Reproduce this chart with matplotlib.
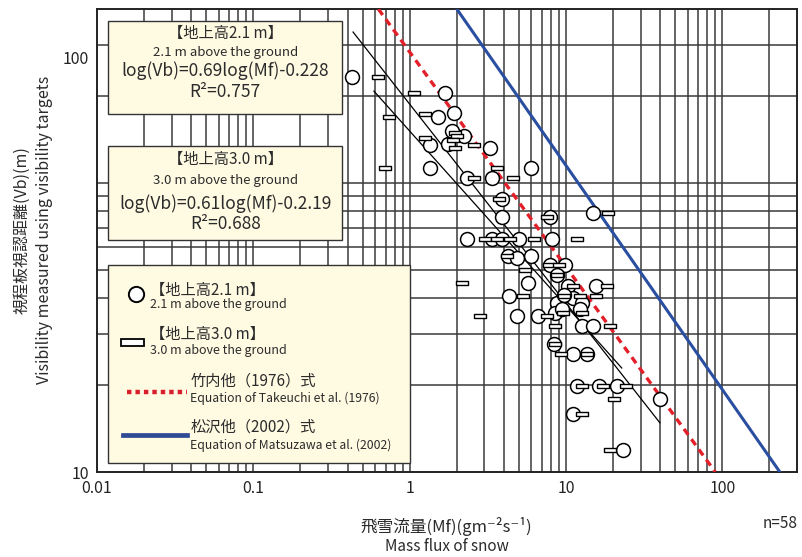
import numpy as np
import matplotlib
matplotlib.use('Agg')
import matplotlib.pyplot as plt
from matplotlib.patches import Rectangle

plt.rcParams['font.family'] = ['Noto Sans CJK JP', 'DejaVu Sans']

# 地上高2.1 m の観測点 (Mf, Vb)
mf_21 = [0.43, 1.68, 1.92, 1.51, 1.86, 2.22, 1.75, 1.35, 3.26, 1.35, 6.0, 2.31, 3.38,
         3.92, 3.92, 7.87, 14.8, 2.31, 3.38, 3.92, 5.03, 8.11, 4.28, 6.0, 4.84, 7.87,
         9.89, 8.73, 5.70, 15.6, 10.3, 4.3, 8.73, 11.0, 12.7, 9.75, 4.84, 6.61, 8.47,
         9.4, 12.2, 12.7, 14.8, 8.36, 11.0, 13.6, 11.7, 16.2, 21.1, 39.8, 11.0, 23.1]
vb_21 = [233, 205, 175, 169, 151, 146, 137, 135, 132, 113, 113, 104, 104,
         88, 76, 76, 79, 64, 64, 64, 64, 64, 56, 56, 55, 52,
         52, 48, 45, 44, 44, 40.5, 38.5, 40, 38.5, 41, 34.7, 34.7, 35.6,
         36.6, 36.6, 32, 32, 27.8, 25.7, 25.7, 19.9, 19.9, 19.9, 17.9, 15.9, 11.9]

# 地上高3.0 m の観測点 (Mf, Vb)
mf_30 = [0.63, 1.06, 0.74, 1.25, 1.25, 0.69, 1.95, 2.0, 1.89, 1.95, 2.57, 3.61, 2.57,
         4.57, 3.75, 18.5, 7.59, 3.05, 3.61, 4.37, 6.22, 11.7, 4.19, 5.45, 7.8, 9.0,
         8.73, 2.17, 11.0, 18.2, 5.3, 9.75, 12.2, 15.6, 2.81, 7.54, 9.53, 12.7, 8.47,
         19.2, 8.47, 9.27, 13.6, 12.7, 17.2, 24.1, 20.2, 12.7, 19.2]
vb_30 = [233, 205, 169, 173, 143, 113, 149, 146, 141, 132, 135, 113, 104,
         104, 88, 79, 76, 64, 64, 64, 64, 64, 56, 50, 52, 52,
         48, 45, 44, 44, 40.5, 40.5, 40.5, 40.5, 34.7, 34.7, 35.6, 35.6, 32,
         32, 27.8, 25.7, 25.7, 19.9, 19.9, 19.9, 17.9, 15.9, 11.9]

# 回帰直線・既往式の端点
fit21_mf = [0.434, 39.8]
fit21_vb = [333, 14.8]
fit30_mf = [0.59, 22.7]
fit30_vb = [208, 22.9]
takeuchi_mf = [0.63, 90]
takeuchi_vb = [400, 10]
matsuzawa_mf = [2.0, 233]
matsuzawa_vb = [400, 10]

x_ticks = [0.01, 0.1, 1, 10, 100]
x_ticklabels = ['0.01', '0.1', '1', '10', '100']
y_ticks = [10, 271]
y_ticklabels = ['10', '100']

fig = plt.figure(figsize=(8.02, 5.57), dpi=100)
ax = fig.add_axes([0.121, 0.1526, 0.8728, 0.8312])
ax.set_xscale('log')
ax.set_yscale('log')
ax.set_xlim(0.01, 300)
ax.set_ylim(10, 400)

grid_c = '#3a3a3a'
for dec in [0.01, 0.1, 1, 10, 100]:
    for k in range(1, 10):
        v = dec * k
        if 0.01 < v < 300:
            ax.axvline(v, color=grid_c, lw=1.1, zorder=1)
for v in [20, 30, 40, 50, 60, 70, 80, 90, 100, 200, 300]:
    ax.axhline(v, color=grid_c, lw=1.1, zorder=1)

ax.set_xticks(x_ticks)
ax.set_xticklabels(x_ticklabels)
ax.set_yticks(y_ticks)
ax.set_yticklabels(y_ticklabels)
ax.minorticks_off()
ax.tick_params(length=0, labelsize=11.5, colors='#222222', pad=6)
for s in ax.spines.values():
    s.set_linewidth(1.4)
    s.set_color('#222222')

# 既往式
ax.plot(takeuchi_mf, takeuchi_vb, color='#e3202a', lw=2.4, ls=(0, (2.2, 1.6)), zorder=4)
ax.plot(matsuzawa_mf, matsuzawa_vb, color='#2a4ea0', lw=2.2, zorder=4)

# 回帰直線
ax.plot(fit21_mf, fit21_vb, color='black', lw=0.9, zorder=5)
ax.plot(fit30_mf, fit30_vb, color='black', lw=0.9, zorder=5)

rect_marker = [(-1, -0.33), (1, -0.33), (1, 0.33), (-1, 0.33), (-1, -0.33)]
ax.plot(mf_21, vb_21, ls='none', marker='o', ms=10, mfc='white', mec='black', mew=1.1, zorder=6)
ax.plot(mf_30, vb_30, ls='none', marker=rect_marker, ms=8.5, mfc='white', mec='black', mew=1.0, zorder=7)

# 注記ボックス
box_fc = '#fffbe3'
box_ec = '#333333'
tc = '#2b2b2b'
for (x0, y0, x1, y1) in [(0.0157, 0.773, 0.35, 0.974), (0.0157, 0.501, 0.35, 0.704),
                         (0.0157, 0.0194, 0.447, 0.447)]:
    ax.add_patch(Rectangle((x0, y0), x1 - x0, y1 - y0, transform=ax.transAxes,
                           facecolor=box_fc, edgecolor=box_ec, lw=1.0, zorder=8))

cx = 0.183
ax.text(cx, 0.948, '【地上高2.1 m】', transform=ax.transAxes, ha='center', va='center', fontsize=11, color=tc, zorder=9)
ax.text(cx, 0.907, '2.1 m above the ground', transform=ax.transAxes, ha='center', va='center', fontsize=9.5, color=tc, zorder=9)
ax.text(cx, 0.866, 'log(Vb)=0.69log(Mf)-0.228', transform=ax.transAxes, ha='center', va='center', fontsize=12.5, color=tc, zorder=9)
ax.text(cx, 0.821, 'R²=0.757', transform=ax.transAxes, ha='center', va='center', fontsize=12.5, color=tc, zorder=9)

ax.text(cx, 0.674, '【地上高3.0 m】', transform=ax.transAxes, ha='center', va='center', fontsize=11, color=tc, zorder=9)
ax.text(cx, 0.629, '3.0 m above the ground', transform=ax.transAxes, ha='center', va='center', fontsize=9.5, color=tc, zorder=9)
ax.text(cx, 0.579, 'log(Vb)=0.61log(Mf)-0.2.19', transform=ax.transAxes, ha='center', va='center', fontsize=12.5, color=tc, zorder=9)
ax.text(cx, 0.536, 'R²=0.688', transform=ax.transAxes, ha='center', va='center', fontsize=12.5, color=tc, zorder=9)

# 凡例
ax.plot([0.0557], [0.384], transform=ax.transAxes, marker='o', ms=11, mfc='white', mec='black', mew=1.4, zorder=9)
ax.text(0.0757, 0.393, '【地上高2.1 m】', transform=ax.transAxes, ha='left', va='center', fontsize=11, color=tc, zorder=9)
ax.text(0.0757, 0.362, '2.1 m above the ground', transform=ax.transAxes, ha='left', va='center', fontsize=9, color=tc, zorder=9)

ax.add_patch(Rectangle((0.034, 0.273), 0.033, 0.014, transform=ax.transAxes,
                       facecolor='white', edgecolor='black', lw=1.3, zorder=9))
ax.text(0.0757, 0.296, '【地上高3.0 m】', transform=ax.transAxes, ha='left', va='center', fontsize=11, color=tc, zorder=9)
ax.text(0.0757, 0.263, '3.0 m above the ground', transform=ax.transAxes, ha='left', va='center', fontsize=9, color=tc, zorder=9)

ax.plot([0.043, 0.128], [0.173, 0.173], transform=ax.transAxes, color='#d8202a', lw=3.2, ls=(0, (1.0, 0.9)), zorder=9)
ax.text(0.133, 0.197, '竹内他（1976）式', transform=ax.transAxes, ha='left', va='center', fontsize=11, color=tc, zorder=9)
ax.text(0.133, 0.160, 'Equation of Takeuchi et al. (1976)', transform=ax.transAxes, ha='left', va='center', fontsize=8.8, color=tc, zorder=9)

ax.plot([0.037, 0.128], [0.080, 0.080], transform=ax.transAxes, color='#2f4a94', lw=3.4, zorder=9)
ax.text(0.133, 0.097, '松沢他（2002）式', transform=ax.transAxes, ha='left', va='center', fontsize=11, color=tc, zorder=9)
ax.text(0.133, 0.058, 'Equation of Matsuzawa et al. (2002)', transform=ax.transAxes, ha='left', va='center', fontsize=8.8, color=tc, zorder=9)

# 軸ラベル
fig.text(0.557, 0.054, '飛雪流量(Mf)(gm⁻²s⁻¹)', ha='center', va='center', fontsize=12, color=tc)
fig.text(0.557, 0.018, 'Mass flux of snow', ha='center', va='center', fontsize=11, color=tc)
fig.text(0.973, 0.061, 'n=58', ha='center', va='center', fontsize=11, color=tc)
fig.text(0.027, 0.587, '視程板視認距離(Vb)(m)', ha='center', va='center', rotation=90, fontsize=11.5, color=tc)
fig.text(0.056, 0.587, 'Visibility measured using visibility targets', ha='center', va='center', rotation=90, fontsize=11.5, color=tc)

fig.savefig('out.png', dpi=100)
